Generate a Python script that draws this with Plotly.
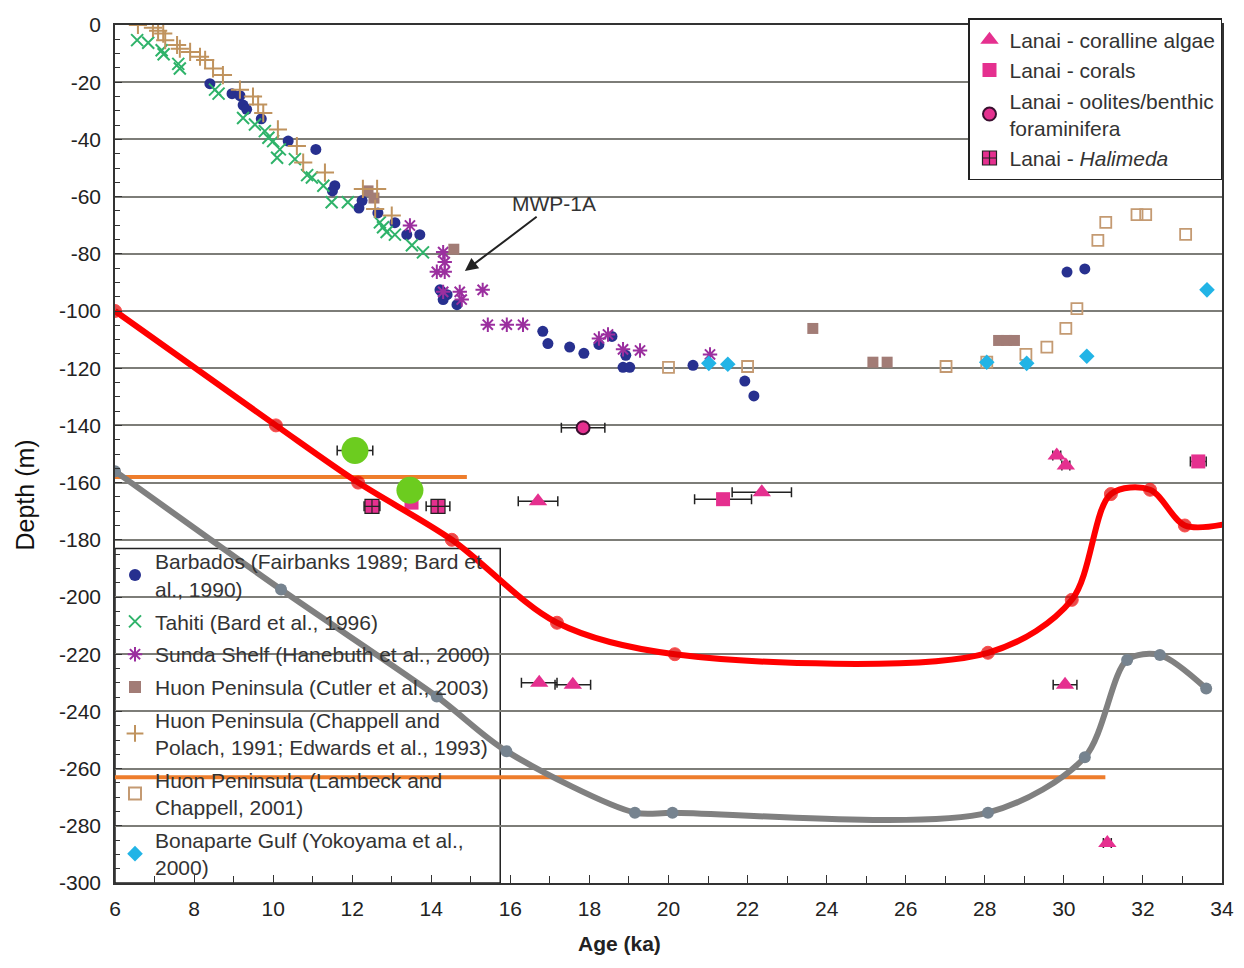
import plotly.graph_objects as go

# ---------------- data ----------------
barb_x = [8.4, 8.96, 9.16, 9.24, 9.33, 9.7, 10.38, 11.08, 11.56, 11.5, 12.17, 12.25, 12.65, 13.08, 13.38, 13.71,
          14.22, 14.4, 14.3, 14.65, 14.26, 16.82, 16.95, 17.5, 17.86, 18.24, 18.57, 18.92, 18.85, 19.02, 20.62,
          21.93, 22.16, 30.08, 30.53]
barb_y = [-20.5, -24, -24.7, -28, -29.5, -32.8, -40.6, -43.5, -56.2, -58, -64, -61.4, -65.7, -69.1, -73.3, -73.3,
          -92.6, -94.3, -96, -97.8, -93.2, -107.1, -111.4, -112.6, -114.8, -111.7, -108.9, -115.5, -119.7, -119.7, -119,
          -124.5, -129.7, -86.4, -85.3]

tahiti_x = [6.56, 6.84, 7.18, 7.23, 7.6, 7.64, 8.53, 8.62, 9.24, 9.54, 9.79, 9.88, 10.0, 10.17, 10.1, 10.55,
            10.86, 10.98, 11.27, 11.48, 11.89, 12.7, 12.78, 12.87, 13.08, 13.51, 13.79]
tahiti_y = [-5.3, -6.2, -8.8, -10.2, -13.6, -15.2, -22.6, -24, -32.5, -34.8, -37.1, -39.4, -40.6, -43.5, -46.4, -46.9,
            -52.5, -53.3, -56.2, -62, -62, -69, -70.7, -72.4, -73.3, -77, -79.5]

sunda_x = [13.46, 14.3, 14.34, 14.14, 14.34, 14.3, 14.72, 14.77, 15.3, 15.43, 15.91, 16.32, 18.24, 18.47, 18.85,
           19.28, 21.05]
sunda_y = [-70.1, -79.4, -82.9, -86.3, -86.3, -93.3, -93.3, -96, -92.6, -104.8, -104.8, -104.8, -109.6, -108.2,
           -113.4, -113.8, -115.2]

cutler_x = [12.4, 12.55, 14.57, 23.65, 25.17, 25.53, 28.35, 28.55, 28.75]
cutler_y = [-58, -60.5, -78.4, -106.1, -117.9, -117.9, -110.3, -110.3, -110.3]

chappell_x = [6.58, 6.96, 7.09, 7.22, 7.27, 7.57, 7.64, 7.9, 8.15, 8.28, 8.48, 8.73, 9.16, 9.49, 9.62, 9.75,
              10.12, 10.6, 10.76, 11.31, 12.27, 12.63, 12.58, 13.0]
chappell_y = [0, -1, -2, -3, -5.3, -7, -8.3, -9.4, -11.1, -12.2, -15.2, -17.5, -22.6, -25, -27.8, -30.8,
              -36.5, -42.3, -48.1, -51.6, -57.3, -57.3, -64.3, -66.6]

lambeck_x = [20.0, 22.0, 27.02, 28.05, 29.04, 29.57, 30.05, 30.33, 30.86, 31.06, 31.85, 32.07, 33.08, 34.07]
lambeck_y = [-119.7, -119.4, -119.4, -117.9, -115.2, -112.6, -106.1, -99.2, -75.3, -69, -66.3, -66.3, -73.2, -74.2]

bonap_x = [21.02, 21.5, 28.05, 29.06, 30.58, 33.62]
bonap_y = [-118.3, -118.6, -117.9, -118.3, -115.8, -92.6]

# Lanai
alg_x = [16.7, 22.36, 16.73, 17.58, 29.82, 30.05, 30.03, 31.1]
alg_y = [-166.5, -163.4, -230, -230.7, -150.5, -154, -230.7, -286]
alg_err = [0.5, 0.75, 0.45, 0.45, 0.1, 0.1, 0.3, 0.1]

coral_x = [21.38, 33.4, 13.5]
coral_y = [-165.8, -152.6, -167]
coral_err = [0.72, 0.2, 0.0]

oolite_x = [17.84]
oolite_y = [-140.8]
oolite_err = [0.55]

halim_x = [12.5, 14.17]
halim_y = [-168.3, -168.3]
halim_err = [0.2, 0.3]

# model curves
red_x = [6.0, 10.07, 12.15, 14.52, 17.18, 20.16, 28.08, 30.2, 31.19, 32.18, 33.06, 34.1]
red_y = [-100, -140, -160, -180, -209, -220, -219.5, -201, -164, -162.5, -175, -174.5]
gray_x = [6.0, 10.2, 14.14, 15.9, 19.15, 20.1, 28.08, 30.53, 31.6, 32.43, 33.6]
gray_y = [-156, -197.4, -234.8, -253.9, -275.4, -275.4, -275.4, -256, -222, -220.3, -232]

green_x = [12.07, 13.46]
green_y = [-148.8, -162.7]

orange_level = [-158, -263]
orange_xend = [14.9, 31.05]

x_ticks = list(range(6, 35, 2))
y_ticks = list(range(0, -301, -20))

# ---------------- figure ----------------
FONT = "Liberation Sans, Arial, Helvetica, sans-serif"
fig = go.Figure()

def sc(name, x, y, symbol, color, size, lw=0, lcolor=None, legend="legend", **kw):
    fig.add_trace(go.Scatter(
        x=x, y=y, mode="markers", name=name, legend=legend,
        marker=dict(symbol=symbol, color=color, size=size,
                    line=dict(width=lw, color=lcolor if lcolor else color)),
        **kw))

sc("Barbados (Fairbanks 1989; Bard et<br>al., 1990)", barb_x, barb_y, "circle", "#27308f", 11, legendgroup="a")
sc("Tahiti (Bard et al., 1996)", tahiti_x, tahiti_y, "x-thin-open", "#2fb36a", 12, lw=2, legendgroup="b")
sc("Sunda Shelf (Hanebuth et al., 2000)", sunda_x, sunda_y, "asterisk-open", "#9b2f9f", 12, lw=2, legendgroup="c")
sc("Huon Peninsula (Cutler et al., 2003)", cutler_x, cutler_y, "square", "#a27c76", 11, legendgroup="d")
sc("Huon Peninsula (Chappell and<br>Polach, 1991; Edwards et al., 1993)", chappell_x, chappell_y,
   "cross-thin-open", "#c0935e", 13, lw=2, legendgroup="e")
sc("Huon Peninsula (Lambeck and<br>Chappell, 2001)", lambeck_x, lambeck_y, "square-open", "#c49a72", 11, lw=1.8,
   legendgroup="f", cliponaxis=False)
sc("Bonaparte Gulf (Yokoyama et al.,<br>2000)", bonap_x, bonap_y, "diamond", "#22b4e6", 12, legendgroup="g")

PINK = "#e5308f"
errx = lambda arr: dict(type="data", array=arr, symmetric=True, color="#222222", thickness=1.5, width=5)
sc("Lanai - coralline algae", alg_x, alg_y, "triangle-up", PINK, 16, legend="legend2",
   error_x=errx(alg_err), legendgroup="l1")
sc("Lanai - corals", coral_x, coral_y, "square", PINK, 14, legend="legend2",
   error_x=errx(coral_err), legendgroup="l2")
sc("Lanai - oolites/benthic<br>foraminifera", oolite_x, oolite_y, "circle", PINK, 13, lw=2, lcolor="#3a1030",
   legend="legend2", error_x=errx(oolite_err), legendgroup="l3")
sc("Lanai - <i>Halimeda</i>", halim_x, halim_y, "square-cross", PINK, 14, lw=1.2, lcolor="#222222",
   legend="legend2", error_x=errx(halim_err), legendgroup="l4")

# orange reference levels
for lvl, xe in zip(orange_level, orange_xend):
    fig.add_trace(go.Scatter(x=[6, xe], y=[lvl, lvl], mode="lines", showlegend=False,
                             line=dict(color="#ee7d2c", width=4)))

red_sizes = [13] * (len(red_x) - 1) + [0]
fig.add_trace(go.Scatter(x=gray_x, y=gray_y, mode="lines+markers", showlegend=False,
                         line=dict(color="#808080", width=6, shape="spline", smoothing=0.85),
                         marker=dict(color="#76838f", size=12)))
fig.add_trace(go.Scatter(x=red_x, y=red_y, mode="lines+markers", showlegend=False,
                         line=dict(color="#ff0000", width=6, shape="spline", smoothing=0.9),
                         marker=dict(color="#e00000", size=red_sizes)))
fig.add_trace(go.Scatter(x=green_x, y=green_y, mode="markers", showlegend=False,
                         marker=dict(color="#6ccc1f", size=27),
                         error_x=dict(type="data", array=[0.45, 0], symmetric=True, color="#222222",
                                      thickness=1.5, width=5)))

# legend box for first legend (white, above gridlines, below traces)
fig.add_shape(type="rect", xref="paper", yref="paper", x0=0, x1=0.348, y0=0, y1=0.39,
              fillcolor="white", line=dict(color="#222222", width=1.5), layer="between")

fig.add_annotation(x=14.85, y=-86, ax=17.1, ay=-62.5, axref="x", ayref="y", xref="x", yref="y",
                   text="MWP-1A", showarrow=True, arrowhead=2, arrowsize=1.3, arrowwidth=2,
                   arrowcolor="#222222", font=dict(size=21, color="#333333", family=FONT), standoff=0)

# axis titles (placed like the reference, slightly off-centre)
fig.add_annotation(text="Depth (m)", xref="paper", yref="paper", x=-0.081, y=0.452, textangle=-90,
                   showarrow=False, font=dict(size=25, color="#111111", family=FONT),
                   xanchor="center", yanchor="middle")
fig.add_annotation(text="<b>Age (ka)</b>", xref="paper", yref="paper", x=0.456, y=-0.071,
                   showarrow=False, font=dict(size=21, color="#222222", family=FONT),
                   xanchor="center", yanchor="middle")

# page body has an 8px margin: size figure so that the plot area lands where the reference has it
fig.update_layout(
    width=1228, height=952,
    margin=dict(l=107, r=14, t=10, b=77),
    plot_bgcolor="white", paper_bgcolor="white",
    font=dict(family=FONT, size=20, color="#222222"),
    legend=dict(x=0.0, y=-0.006, xanchor="left", yanchor="bottom", bgcolor="rgba(0,0,0,0)",
                font=dict(size=21, color="#333333", family=FONT), tracegroupgap=2.5,
                itemsizing="constant"),
    legend2=dict(x=1.0, y=1.008, xanchor="right", yanchor="top", bgcolor="white",
                 bordercolor="#222222", borderwidth=1.5, tracegroupgap=0,
                 font=dict(size=21, color="#333333", family=FONT)),
    xaxis=dict(range=[6, 34], tickvals=x_ticks, ticktext=[str(v) for v in x_ticks], automargin=False,
               ticks="inside", ticklen=8, tickcolor="#333", showgrid=False, zeroline=False,
               showline=True, linecolor="#333333", linewidth=1.5, mirror=True,
               minor=dict(dtick=1, ticks="inside", ticklen=7, tickcolor="#333"),
               tickfont=dict(size=21), ticklabelstandoff=6),
    yaxis=dict(range=[-300, 0], tickvals=y_ticks, ticktext=[str(v) for v in y_ticks], automargin=False,
               ticks="inside", ticklen=7, tickcolor="#333", showgrid=True, gridcolor="#7d7d78",
               gridwidth=2, zeroline=False, showline=True, linecolor="#333333", linewidth=1.5, mirror=True,
               minor=dict(dtick=5, ticks="inside", ticklen=5, tickcolor="#333"),
               tickfont=dict(size=21), ticklabelstandoff=8),
)

fig.write_html("out.html")
